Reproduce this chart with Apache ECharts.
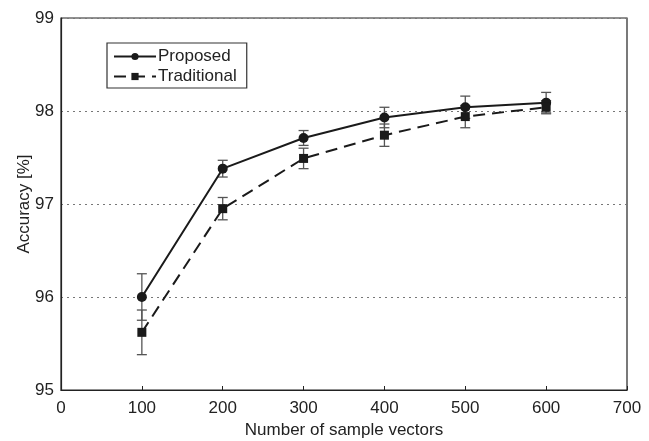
<!DOCTYPE html>
<html>
<head>
<meta charset="utf-8">
<script src="https://cdn.jsdelivr.net/npm/echarts@6/dist/echarts.min.js"></script>
<style>
  html, body { margin: 0; padding: 0; background: #fff; }
  #chart { width: 649px; height: 441px; }
</style>
</head>
<body>
<div id="chart"></div>
<script>
// sample counts on the x axis
var samples = [100, 200, 300, 400, 500, 600]
// mean accuracy and half-width of the error bar
var proposed = [96.0, 97.38, 97.71, 97.93, 98.04, 98.09]
var proposedErr = [0.25, 0.09, 0.08, 0.11, 0.12, 0.11]
var traditional = [95.62, 96.95, 97.49, 97.74, 97.94, 98.04]
var traditionalErr = [0.24, 0.12, 0.11, 0.12, 0.12, 0.07]

var font = 'Liberation Sans, Arial, sans-serif'

function pairs(ys) {
  return samples.map(function (x, i) { return [x, ys[i]] })
}
function errRows(ys, es) {
  return samples.map(function (x, i) { return [x, ys[i] - es[i], ys[i] + es[i]] })
}

function errorBar(params, api) {
  var x = api.value(0)
  var lo = api.coord([x, api.value(1)])
  var hi = api.coord([x, api.value(2)])
  var cap = 5
  var style = { stroke: '#555', lineWidth: 1.3 }
  return {
    type: 'group',
    children: [
      { type: 'line', shape: { x1: lo[0], y1: lo[1], x2: hi[0], y2: hi[1] }, style: style },
      { type: 'line', shape: { x1: lo[0] - cap, y1: lo[1], x2: lo[0] + cap, y2: lo[1] }, style: style },
      { type: 'line', shape: { x1: hi[0] - cap, y1: hi[1], x2: hi[0] + cap, y2: hi[1] }, style: style }
    ]
  }
}

var chart = echarts.init(document.getElementById('chart'))
chart.setOption({
  animation: false,
  backgroundColor: '#fff',
  textStyle: { fontFamily: font },
  grid: {
    left: 61, right: 22, top: 18, bottom: 51,
    outerBoundsMode: 'none',
    show: true, borderColor: '#222', borderWidth: 1.2, backgroundColor: 'transparent'
  },
  legend: {
    orient: 'vertical',
    left: 107,
    top: 43,
    padding: [5, 10, 3, 6],
    itemGap: 3,
    itemWidth: 42,
    itemHeight: 9,
    borderColor: '#333',
    borderWidth: 1.2,
    textStyle: { fontFamily: font, fontSize: 17, color: '#222', padding: [0, 0, 0, -3] },
    data: ['Proposed', 'Traditional']
  },
  xAxis: {
    type: 'value',
    min: 0,
    max: 700,
    interval: 100,
    axisLine: { lineStyle: { color: '#222', width: 1.2 } },
    axisTick: { inside: true, length: 4, lineStyle: { color: '#222' } },
    axisLabel: { fontFamily: font, fontSize: 17, color: '#222', margin: 10 },
    splitLine: { show: false },
    name: 'Number of sample vectors',
    nameLocation: 'middle',
    nameGap: 32,
    nameMoveOverlap: false,
    nameTextStyle: { fontFamily: font, fontSize: 17, color: '#222' }
  },
  yAxis: {
    type: 'value',
    min: 95,
    max: 99,
    interval: 1,
    axisLine: { show: true, lineStyle: { color: '#222', width: 1.2 } },
    axisTick: { show: false },
    axisLabel: { fontFamily: font, fontSize: 17, color: '#222', margin: 7 },
    splitLine: { show: true, lineStyle: { color: '#777', type: [2, 4], width: 1.2 } },
    name: 'Accuracy [%]',
    nameLocation: 'middle',
    nameGap: 28,
    nameMoveOverlap: false,
    nameTextStyle: { fontFamily: font, fontSize: 17, color: '#222' }
  },
  series: [
    {
      type: 'custom',
      renderItem: errorBar,
      data: errRows(proposed, proposedErr),
      encode: { x: 0, y: [1, 2] },
      z: 1,
      silent: true
    },
    {
      type: 'custom',
      renderItem: errorBar,
      data: errRows(traditional, traditionalErr),
      encode: { x: 0, y: [1, 2] },
      z: 1,
      silent: true
    },
    {
      name: 'Proposed',
      type: 'line',
      data: pairs(proposed),
      symbol: 'circle',
      symbolSize: 10,
      itemStyle: { color: '#1a1a1a' },
      lineStyle: { color: '#1a1a1a', width: 2 },
      z: 3
    },
    {
      name: 'Traditional',
      type: 'line',
      data: pairs(traditional),
      symbol: 'rect',
      symbolSize: 9,
      itemStyle: { color: '#1a1a1a' },
      lineStyle: { color: '#1a1a1a', width: 2, type: [12, 7] },
      z: 3
    }
  ]
})
</script>
</body>
</html>
